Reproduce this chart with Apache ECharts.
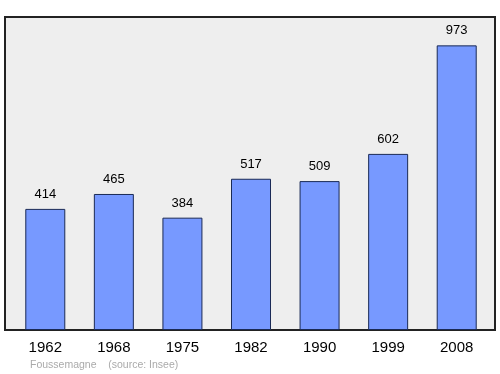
<!DOCTYPE html>
<html><head><meta charset="utf-8">
<script src="https://cdn.jsdelivr.net/npm/echarts@6/dist/echarts.min.js"></script>
<style>html,body{margin:0;padding:0;background:#fff}#c{width:500px;height:374px}</style>
</head><body><div id="c"></div>
<script>
const categories = ['1962','1968','1975','1982','1990','1999','2008'];
const population = [414, 465, 384, 517, 509, 602, 973];
const sourceText = 'Foussemagne    (source: Insee)';

const chart = echarts.init(document.getElementById('c'), null, {renderer:'canvas'});
chart.setOption({
  animation: false,
  grid: [
    {left: 5, right: 5, top: 17, bottom: 44, show: true, backgroundColor: '#eeeeee', borderColor: '#222222', borderWidth: 2, z: 0},
    {left: 11, right: 9, top: 17, bottom: 44}
  ],
  xAxis: [
    {gridIndex: 0, type: 'value', show: false, min: 0, max: 1},
    {gridIndex: 1, type: 'category', data: categories,
     axisLine: {show: false}, axisTick: {show: false},
     axisLabel: {fontSize: 15, color: '#000', margin: 10, fontFamily: 'Liberation Sans'}}
  ],
  yAxis: [
    {gridIndex: 0, type: 'value', show: false, min: 0, max: 1},
    {gridIndex: 1, type: 'value', min: 0, max: 1070, show: false}
  ],
  series: [{
    type: 'bar', xAxisIndex: 1, yAxisIndex: 1,
    data: population, barWidth: 40,
    itemStyle: {color: '#7799ff', borderColor: '#1a2a55', borderWidth: 1},
    label: {show: true, position: 'top', distance: 8, fontSize: 13, color: '#000', fontFamily: 'Liberation Sans'}
  }],
  graphic: [{
    type: 'text', left: 30, top: 360,
    style: {text: sourceText, fontSize: 10.5, fill: '#aaaaaa', fontFamily: 'Liberation Sans'}
  }]
});
</script></body></html>
